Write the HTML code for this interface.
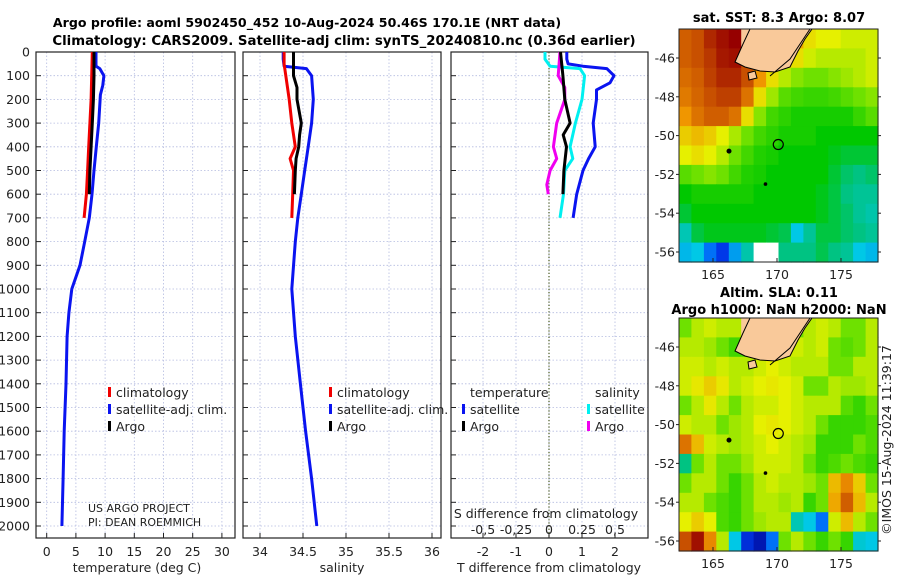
<!DOCTYPE html>
<html><head><meta charset="utf-8"><style>
body{margin:0;background:#fff}
svg{display:block;font-family:"DejaVu Sans","Liberation Sans",sans-serif}
.t{font-size:12.5px;fill:#222}
.b{font-size:13px;font-weight:bold;fill:#000}
</style></head><body>
<svg id="fig" width="900" height="580" viewBox="0 0 900 580">
<text class="b" x="307" y="27" text-anchor="middle" style="font-size:12.6px">Argo profile: aoml 5902450_452 10-Aug-2024 50.46S 170.1E (NRT data)</text>
<text class="b" x="344" y="45" text-anchor="middle" style="font-size:13.3px">Climatology: CARS2009. Satellite-adj clim: synTS_20240810.nc (0.36d earlier)</text>
<text class="b" x="779" y="22" text-anchor="middle">sat. SST: 8.3 Argo: 8.07</text>
<text class="b" x="779" y="297" text-anchor="middle">Altim. SLA: 0.11</text>
<text class="b" x="779" y="314" text-anchor="middle">Argo h1000: NaN h2000: NaN</text>
<text class="t" transform="translate(891,440) rotate(-90)" text-anchor="middle">©IMOS 15-Aug-2024 11:39:17</text>
<g id="g"></g>
</svg>
<script>
// ---- profile data (pressure in dbar) ----
const pTicks=[0,100,200,300,400,500,600,700,800,900,1000,1100,1200,1300,1400,1500,1600,1700,1800,1900,2000];
const climTP=[0,100,200,300,400,500,600,700];
const climT=[7.8,7.7,7.6,7.4,7.2,7.0,6.8,6.4];
const argoTP=[0,100,200,300,400,500,600];
const argoT=[8.1,8.1,8.0,7.8,7.6,7.4,7.3];
const satTP=[0,60,70,100,140,180,300,400,500,600,700,800,900,1000,1100,1200,1400,1600,1800,2000];
const satT=[8.45,8.45,9.1,9.8,9.6,9.2,8.9,8.5,8.1,7.75,7.3,6.5,5.7,4.3,3.8,3.5,3.3,3.0,2.8,2.6];
const climSP=[0,50,100,150,200,300,400,450,500,600,700];
const climS=[34.28,34.28,34.30,34.32,34.34,34.37,34.41,34.35,34.39,34.38,34.37];
const argoSP=[0,100,150,200,300,350,400,450,500,600];
const argoS=[34.39,34.39,34.43,34.43,34.48,34.46,34.45,34.42,34.41,34.40];
const satSP=[0,30,60,70,100,200,300,400,500,600,700,800,1000,1200,1400,1600,1800,2000];
const satS=[34.27,34.27,34.28,34.54,34.6,34.62,34.6,34.56,34.52,34.48,34.44,34.41,34.37,34.41,34.47,34.53,34.6,34.66];
const dTP=[0,30,50,60,70,100,130,160,200,300,400,450,500,600,700];
const dTsat=[0.54,0.54,0.58,1.03,1.75,1.97,1.85,1.44,1.44,1.34,1.4,1.2,1.03,0.84,0.73];
const dTargoP=[0,100,200,300,350,400,500,600];
const dTargo=[0.35,0.42,0.48,0.64,0.43,0.53,0.45,0.42];
const dSP=[0,30,60,70,100,200,300,400,450,500,600,700];
const dSsat=[-0.03,-0.03,0.008,0.235,0.27,0.25,0.2,0.16,0.18,0.12,0.11,0.083];
const dSargoP=[0,100,150,200,300,400,450,500,560,600];
const dSargo=[0.083,0.07,0.12,0.12,0.058,0.033,0.058,0.008,-0.017,-0.005];
const tTicks=[0,5,10,15,20,25,30];
const sTicks=[34,34.5,35,35.5,36];
const dTTicks=[-2,-1,0,1,2];
const dSTicks=[-0.5,-0.25,0,0.25,0.5];
const dSTickLabels=["-0,5","-0,25","0","0.25","0,5"];
// ---- map fields (0..100 colour index, L=land, W=missing) ----
const sstGrid=[
"88 90 95 98 100 L L L L 78 72 70 70 68 68 68",
"88 90 93 97 98 90 L L 78 72 68 66 66 66 66 68",
"86 88 92 95 95 90 80 72 66 62 60 60 62 64 66 68",
"84 87 90 92 92 85 72 64 58 56 55 55 56 58 60 62",
"80 85 88 88 85 72 62 56 54 52 52 52 52 52 55 58",
"74 76 74 70 65 60 56 54 52 52 52 50 50 50 50 50",
"70 72 70 66 60 56 53 52 50 50 50 50 48 46 46 46",
"58 60 62 60 56 53 52 50 50 50 50 50 46 42 40 42",
"50 52 52 52 52 52 50 50 50 50 50 48 45 40 38 38",
"46 50 50 50 50 50 50 50 50 50 50 48 45 42 38 36",
"35 45 48 48 48 48 48 46 44 30 38 45 45 42 40 38",
"28 30 20 12 25 36 W W 40 40 40 44 40 38 30 28"];
const slaGrid=[
"60 66 68 66 66 L L L L 60 66 68 66 60 60 66",
"66 66 64 60 56 56 L L 66 68 66 68 60 58 60 66",
"68 68 66 68 66 66 68 70 68 66 66 66 60 60 66 66",
"68 71 74 71 66 68 70 71 70 68 60 60 66 64 64 66",
"60 66 71 66 60 66 68 68 70 68 66 66 66 58 55 60",
"68 66 66 60 64 66 70 71 70 68 66 60 55 55 55 57",
"85 76 68 66 64 66 68 70 68 66 64 55 55 55 60 57",
"40 60 66 60 60 64 68 68 68 66 60 55 57 60 57 55",
"60 66 66 60 55 60 66 68 66 66 64 60 76 82 74 60",
"66 66 60 57 55 60 66 66 64 66 55 60 78 88 76 66",
"70 74 70 57 55 60 64 66 66 35 30 20 68 76 66 60",
"90 98 82 66 30 10 5 20 60 66 60 55 60 55 32 30"];
const lonTicks=[165,170,175];
const latTicks=[-46,-48,-50,-52,-54,-56];
const floatLon=170.1, floatLat=-50.46;

const NS="http://www.w3.org/2000/svg";
const G=document.getElementById('g');
function mk(t,a,par){const e=document.createElementNS(NS,t);for(const k in a)e.setAttribute(k,a[k]);(par||G).appendChild(e);return e;}
const Y0=52,PY=0.237;
const yP=p=>Y0+p*PY;
const panels=[
 {x0:36,x1:235,fx:v=>46.7+v*5.84,ticks:tTicks,name:'temperature'},
 {x0:243,x1:441,fx:v=>260+(v-34)*86,ticks:sTicks,name:'salinity'},
 {x0:451,x1:648,fx:v=>549+v*33,ticks:dTTicks,name:'difference'}];
const fS=v=>549+v*132;
const gridC='#b4bbe0';
panels.forEach((P,i)=>{
  const g=mk('g',{});
  
  
  pTicks.forEach(p=>{
    const l=mk('line',{x1:P.x0,x2:P.x1,y1:yP(p),y2:yP(p),stroke:gridC,'stroke-width':0.8,'stroke-dasharray':'1.5,2'},g);
    
    
    mk('line',{x1:P.x0,x2:P.x0+5,y1:yP(p),y2:yP(p),stroke:'#222'},g);
  });
  P.ticks.forEach(v=>{
    const x=P.fx(v);
    const l=mk('line',{x1:x,x2:x,y1:Y0,y2:538,stroke:gridC,'stroke-width':0.8,'stroke-dasharray':'1.5,2'},g);
    
    
    mk('line',{x1:x,x2:x,y1:538,y2:533,stroke:'#222'},g);
    const t=mk('text',{x:x,y:556,'text-anchor':'middle',class:'t'},g);t.textContent=String(v);
    
    
  });
  const r=mk('rect',{x:P.x0,y:Y0,width:P.x1-P.x0,height:538-Y0,fill:'none',stroke:'#222','stroke-width':1.2},g);
  
  
});
pTicks.forEach(p=>{
  const t=mk('text',{x:30,y:yP(p)+4.5,'text-anchor':'end',class:'t'});t.textContent=String(p);
  
  
});
const z=mk('line',{x1:549,x2:549,y1:Y0,y2:538,stroke:'#4a5a20','stroke-dasharray':'1.2,2','stroke-width':1.2});


dSTicks.forEach((v,i)=>{
  const x=fS(v);
  mk('line',{x1:x,x2:x,y1:538,y2:533,stroke:'#222'});
  const t=mk('text',{x:x,y:534,'text-anchor':'middle',class:'t'});t.textContent=dSTickLabels[i];
  
  
});
function line(P,V,fx,col,name){
  const pts=P.map((p,i)=>fx(V[i]).toFixed(1)+','+yP(p).toFixed(1)).join(' ');
  const l=mk('polyline',{points:pts,fill:'none',stroke:col,'stroke-width':3,'stroke-linejoin':'round'});
  
  
}
const f1=panels[0].fx,f2=panels[1].fx,f3=panels[2].fx;
line(satTP,satT,f1,'#0a14f0','temp-satellite-line');
line(climTP,climT,f1,'#f00000','temp-climatology-line');
line(argoTP,argoT,f1,'#000','temp-argo-line');
line(satSP,satS,f2,'#0a14f0','sal-satellite-line');
line(climSP,climS,f2,'#f00000','sal-climatology-line');
line(argoSP,argoS,f2,'#000','sal-argo-line');
line(dTP,dTsat,f3,'#0a14f0','tdiff-satellite-line');
line(dSP,dSsat,fS,'#00f0f0','sdiff-satellite-line');
line(dSargoP,dSargo,fS,'#f000f0','sdiff-argo-line');
line(dTargoP,dTargo,f3,'#000','tdiff-argo-line');
function txt(s,x,y,name,extra){const t=mk('text',Object.assign({x:x,y:y,class:'t'},extra||{}));t.textContent=s;
  
  return t;}
txt('temperature (deg C)',137,572,'x-axis-title-temperature',{'text-anchor':'middle'});
txt('salinity',342,572,'x-axis-title-salinity',{'text-anchor':'middle'});
txt('T difference from climatology',549,572,'x-axis-title-tdiff',{'text-anchor':'middle'});
txt('S difference from climatology',546,518,'s-diff-axis-title',{'text-anchor':'middle'});
txt('US ARGO PROJECT',88,512,'project-label',{style:'font-size:11px'});
txt('PI: DEAN ROEMMICH',88,526,'pi-label',{style:'font-size:11px'});
function leg(x,y,col,s,name){
  const r=mk('rect',{x:x,y:y-10,width:3,height:10,fill:col});
  
  
  txt(s,x+8,y,name);
}
leg(108,397,'#f00000','climatology','legend-climatology');
leg(108,414,'#0a14f0','satellite-adj. clim.','legend-satellite-adj');
leg(108,431,'#000','Argo','legend-argo');
leg(329,397,'#f00000','climatology','legend2-climatology');
leg(329,414,'#0a14f0','satellite-adj. clim.','legend2-satellite-adj');
leg(329,431,'#000','Argo','legend2-argo');
txt('temperature',470,397,'legend-temperature-header');
leg(462,414,'#0a14f0','satellite','legend-t-satellite');
leg(462,431,'#000','Argo','legend-t-argo');
txt('salinity',595,397,'legend-salinity-header');
leg(587,414,'#00f0f0','satellite','legend-s-satellite');
leg(587,431,'#f000f0','Argo','legend-s-argo');
// ---- maps ----
const cmStops=[[0,[0,0,140]],[0.15,[0,70,255]],[0.3,[0,200,230]],[0.4,[0,195,130]],[0.5,[0,200,0]],[0.6,[110,225,0]],[0.7,[230,240,0]],[0.8,[240,150,0]],[0.9,[200,80,0]],[1,[150,0,0]]];
function cmap(v){
  v=Math.max(0,Math.min(1,v));
  for(let i=1;i<cmStops.length;i++){
    if(v<=cmStops[i][0]){
      const a=cmStops[i-1],b=cmStops[i],f=(v-a[0])/(b[0]-a[0]);
      return 'rgb('+a[1].map((c,k)=>Math.round(c+(b[1][k]-c)*f)).join(',')+')';
    }
  }
  return 'rgb(150,0,0)';
}
function map(grid,top,name){
  const X0=679,X1=878,Y1=top+233;
  const lon=v=>713+(v-165)*12.8;
  const latY=v=>top+29+(-46-v)*19.4;
  const g=mk('g',{});
  
  
  const rows=grid.length,cols=16,cw=(X1-X0)/cols,ch=(Y1-top)/rows;
  grid.forEach((row,ri)=>{
    row.split(' ').forEach((v,ci)=>{
      let f;
      if(v==='L')f='#f9c99a';else if(v==='W')f='#fff';else f=cmap(+v/100);
      mk('rect',{x:(X0+ci*cw).toFixed(1),y:(top+ri*ch).toFixed(1),width:(cw+0.6).toFixed(1),height:(ch+0.6).toFixed(1),fill:f},g);
    });
  });
  const land=mk('polygon',{points:[[750,top],[743,top+15],[735,top+33],[745,top+38],[760,top+42],[775,top+43],[790,top+38],[798,top+22],[805,top+10],[812,top]].map(p=>p.join(',')).join(' '),fill:'#f9c99a',stroke:'#000','stroke-width':1},g);
  
  
  mk('polygon',{points:`748,${top+44} 755,${top+42} 757,${top+49} 749,${top+51}`,fill:'#f9c99a',stroke:'#000','stroke-width':1},g);
  mk('path',{d:`M810,${top} L790,${top+30} L770,${top+47}`,fill:'none',stroke:'#000','stroke-width':1},g);
  mk('circle',{cx:729,cy:latY(-50.8),r:2.5,fill:'#000'},g);
  mk('circle',{cx:lon(169.1),cy:latY(-52.5),r:1.8,fill:'#000'},g);
  const m=mk('circle',{cx:lon(floatLon),cy:latY(floatLat),r:5,fill:'none',stroke:'#000','stroke-width':1.2},g);
  
  
  mk('rect',{x:X0,y:top,width:X1-X0,height:Y1-top,fill:'none',stroke:'#222','stroke-width':1},g);
  lonTicks.forEach(v=>{
    mk('line',{x1:lon(v),x2:lon(v),y1:Y1,y2:Y1-4,stroke:'#222'},g);
    const t=mk('text',{x:lon(v),y:Y1+17,'text-anchor':'middle',class:'t'},g);t.textContent=String(v);
    
    
  });
  latTicks.forEach(v=>{
    mk('line',{x1:X0,x2:X0-3,y1:latY(v),y2:latY(v),stroke:'#222'},g);
    mk('line',{x1:X1,x2:X1+3,y1:latY(v),y2:latY(v),stroke:'#222'},g);
    const t=mk('text',{x:675,y:latY(v)+4.5,'text-anchor':'end',class:'t'},g);t.textContent=String(v);
    
    
  });
}
map(sstGrid,29,'sst-map');
map(slaGrid,318,'sla-map');
</script>
</body></html>
